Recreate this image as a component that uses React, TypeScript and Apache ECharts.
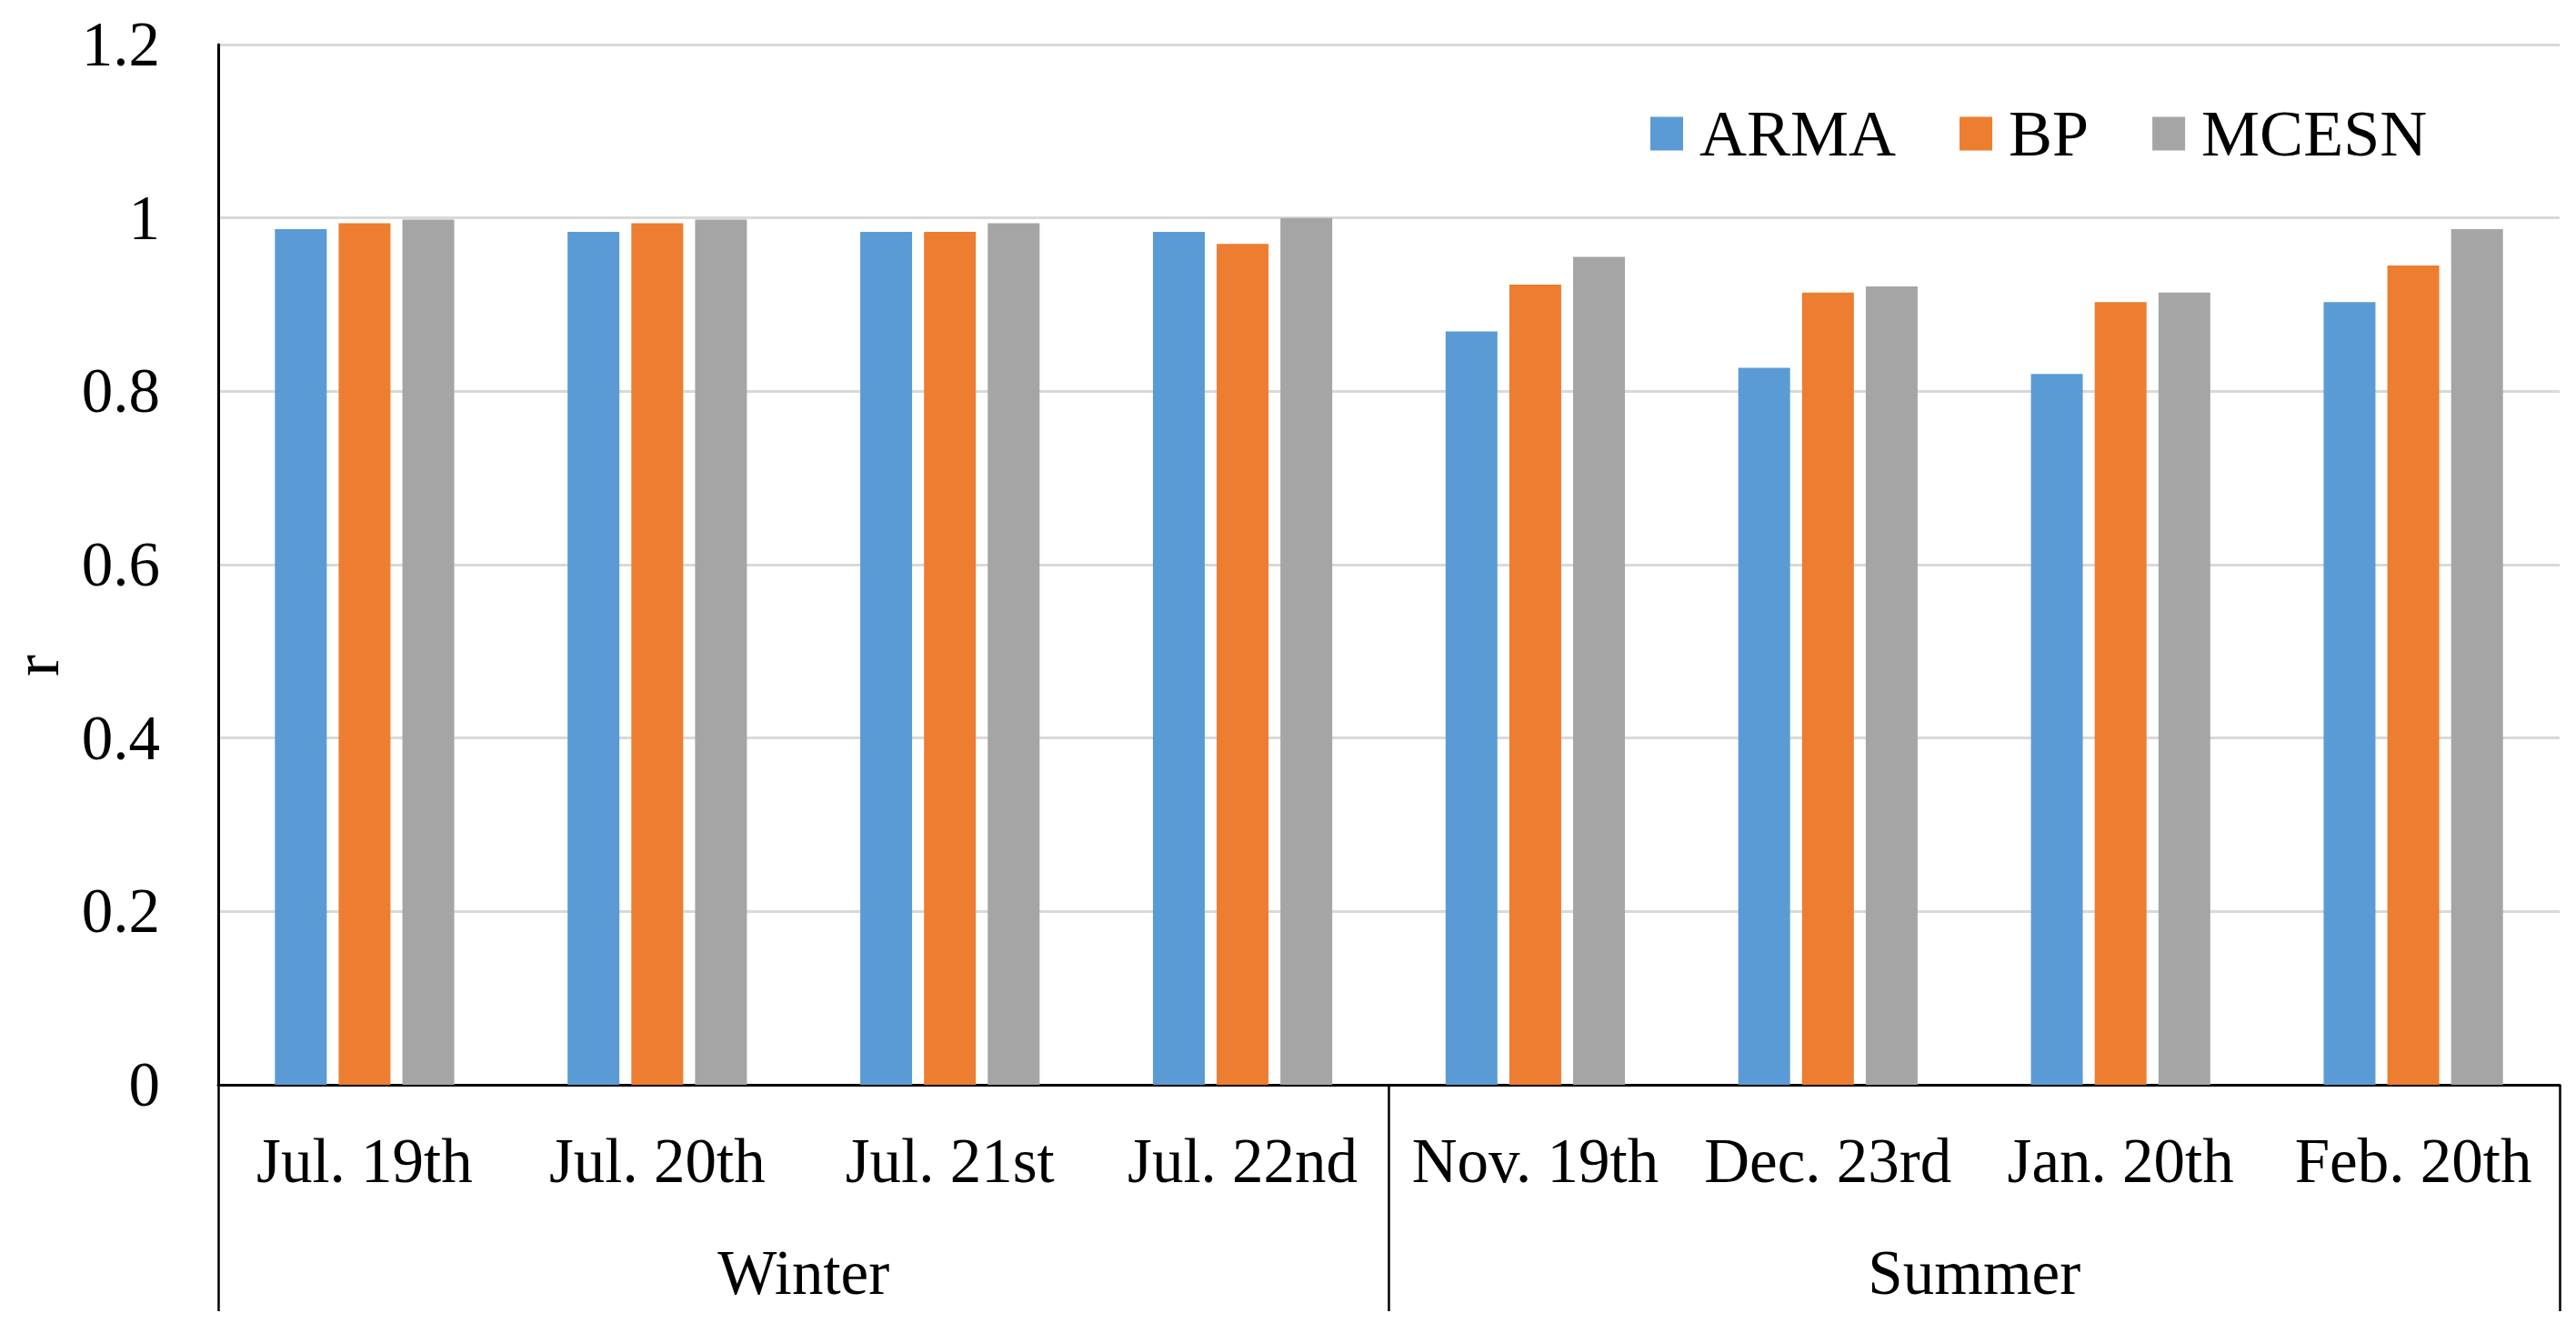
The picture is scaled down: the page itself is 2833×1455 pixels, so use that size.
import React, { useEffect, useRef } from "react";
import * as echarts from "echarts";

const categories = [
  "Jul. 19th",
  "Jul. 20th",
  "Jul. 21st",
  "Jul. 22nd",
  "Nov. 19th",
  "Dec. 23rd",
  "Jan. 20th",
  "Feb. 20th",
];
const groups = ["Winter", "Summer"];
const seriesNames = ["ARMA", "BP", "MCESN"];
const armaValues = [0.987, 0.984, 0.984, 0.984, 0.869, 0.827, 0.82, 0.903];
const bpValues = [0.994, 0.994, 0.984, 0.97, 0.923, 0.914, 0.903, 0.945];
const mcesnValues = [0.998, 0.998, 0.994, 1.0, 0.955, 0.921, 0.914, 0.987];
const colors = ["#5B9BD5", "#ED7D31", "#A5A5A5"];
const yMin = 0;
const yMax = 1.2;
const yInterval = 0.2;
const yTitle = "r";

const FONT = "'Times New Roman', 'Liberation Serif', serif";

export default function App() {
  const ref = useRef<HTMLDivElement>(null);

  useEffect(() => {
    if (!ref.current) return;
    const chart = echarts.init(ref.current, undefined, { renderer: "svg" });
    const values = [armaValues, bpValues, mcesnValues];
    chart.setOption({
      animation: false,
      backgroundColor: "#ffffff",
      textStyle: { fontFamily: FONT, color: "#000" },
      grid: { left: 240, right: 18, top: 49, bottom: 262, containLabel: false },
      legend: {
        data: seriesNames,
        left: 1810,
        top: 106,
        icon: "rect",
        itemWidth: 36,
        itemHeight: 37,
        itemGap: 70,
        textStyle: {
          fontFamily: FONT,
          fontSize: 72,
          color: "#000",
          padding: [0, 0, 0, 13],
        },
      },
      xAxis: [
        {
          type: "category",
          data: categories,
          position: "bottom",
          axisLine: { show: true, lineStyle: { color: "#000", width: 3 } },
          axisTick: { show: false },
          axisLabel: {
            interval: 0,
            margin: 49,
            fontFamily: FONT,
            fontSize: 69,
            color: "#000",
          },
          splitLine: { show: false },
        },
        {
          type: "category",
          data: groups,
          position: "bottom",
          axisLine: { show: false },
          axisTick: {
            show: true,
            length: 249,
            lineStyle: { color: "#000", width: 2.5 },
          },
          axisLabel: {
            interval: 0,
            margin: 172,
            fontFamily: FONT,
            fontSize: 69,
            color: "#000",
          },
          splitLine: { show: false },
        },
      ],
      yAxis: {
        type: "value",
        min: yMin,
        max: yMax,
        interval: yInterval,
        axisLine: { show: true, lineStyle: { color: "#000", width: 3 } },
        axisTick: { show: false },
        axisLabel: {
          margin: 64,
          fontFamily: FONT,
          fontSize: 69,
          color: "#000",
        },
        splitLine: { show: true, lineStyle: { color: "#D9D9D9", width: 3 } },
      },
      graphic: [
        {
          type: "text",
          x: 40,
          y: 732,
          rotation: Math.PI / 2,
          style: {
            text: yTitle,
            fontFamily: FONT,
            fontSize: 72,
            fill: "#000",
            textAlign: "center",
            textVerticalAlign: "middle",
          },
        },
      ],
      series: seriesNames.map((name, i) => ({
        name,
        type: "bar",
        xAxisIndex: 0,
        data: values[i],
        barWidth: 57,
        barGap: "23%",
        itemStyle: { color: colors[i] },
      })),
    });
    return () => chart.dispose();
  }, []);

  return (
    <div
      ref={ref}
      style={{ position: "absolute", left: 0, top: 0, width: 2833, height: 1455 }}
    />
  );
}
